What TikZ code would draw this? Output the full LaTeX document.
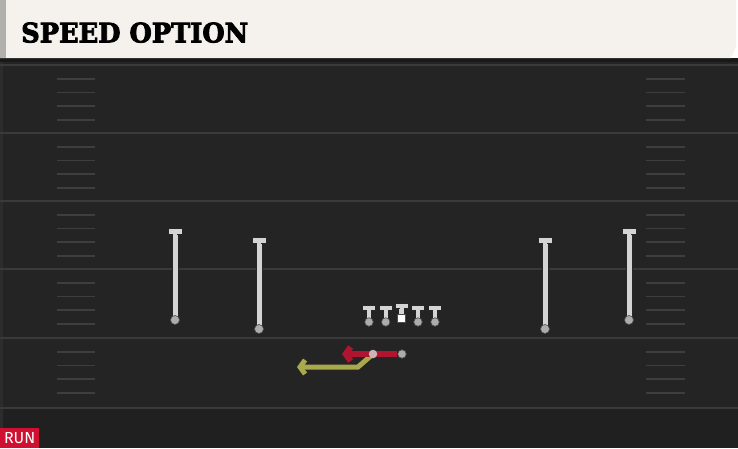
\documentclass[tikz,border=0pt]{standalone}
\usepackage{fontspec}
\newfontfamily\titlefont{DejaVu Serif}[BoldFeatures={FakeBold=3}]
\newfontfamily\runfont{Fira Sans}
\usetikzlibrary{arrows.meta}
\definecolor{fieldbg}{HTML}{242424}
\definecolor{fieldlow}{HTML}{202020}
\definecolor{yardln}{HTML}{3A3A3A}
\definecolor{hashln}{HTML}{3E3E3E}
\definecolor{headbg}{HTML}{F5F2EE}
\definecolor{headedge}{HTML}{B2B0AC}
\definecolor{playerc}{HTML}{D4D4D4}
\definecolor{dotc}{HTML}{ACACAC}
\definecolor{runred}{HTML}{B01530}
\definecolor{optyel}{HTML}{A8A84C}
\definecolor{runbox}{HTML}{D01030}
\definecolor{edgec}{HTML}{2C2C2C}
\tikzset{
  receiver/.style={draw=black!85, line width=0.8pt, fill=playerc},
  hdot/.style={circle, fill=dotc, draw=black!70, line width=0.6pt, inner sep=0pt, minimum size=9pt},
  hashmark/.style={hashln, line width=1.6pt},
  yardline/.style={yardln, line width=1.8pt},
}
\begin{document}
\begin{tikzpicture}[x=1pt,y=-1pt]
\useasboundingbox (0,0) rectangle (738,448);
% field
\fill[fieldbg] (0,58) rectangle (738,448);
\fill[fieldlow] (0,408) rectangle (738,448);
\fill[black!90] (0,58) rectangle (738,62);
\fill[edgec] (0,62) rectangle (3,448);
% yard lines
\foreach \y in {65,133,201,269,338,408} {
  \draw[yardline] (0,\y) -- (738,\y);
}
% hash marks
\foreach \b in {65,133,201,269,338} {
  \foreach \d in {14,27.5,41,55} {
    \draw[hashmark] (57,\b+\d) -- (95,\b+\d);
    \draw[hashmark] (646,\b+\d) -- (685,\b+\d);
  }
}
% header
\fill[headbg] (0,0) -- (736,0) -- (736,47) -- (731,58) -- (0,58) -- cycle;
\fill[headedge] (0,0) rectangle (6,58);
\node[anchor=south west, inner sep=0pt] (title) at (21,43)
  {\resizebox{227pt}{20pt}{\titlefont\bfseries SPEED OPTION}};
% receivers
\foreach \n/\x/\t/\b in {wa/175/231/320, wb/259/240/329, wc/545/240/329, wd/629/231/320} {
  \filldraw[receiver] (\x-3,\t) rectangle (\x+3,\b);
  \filldraw[receiver] (\x-7,\t-3) rectangle (\x+7,\t+3);
  \fill[playerc] (\x-2.2,\t+2) rectangle (\x+2.2,\t+4.5);
  \node[hdot] (\n) at (\x,\b) {};
}
% linemen
\foreach \n/\x in {la/369, lb/385.7, ld/418, le/435} {
  \filldraw[receiver] (\x-2.8,308) rectangle (\x+2.8,321);
  \filldraw[receiver] (\x-6.5,305.5) rectangle (\x+6.5,310.5);
  \fill[playerc] (\x-2,309) rectangle (\x+2,312);
  \node[hdot, minimum size=8.5pt] (\n) at (\x,322) {};
}
\filldraw[receiver] (401.5-2.8,306) rectangle (401.5+2.8,316);
\filldraw[receiver] (401.5-6.5,303.5) rectangle (401.5+6.5,308.5);
\fill[playerc] (401.5-2,307) rectangle (401.5+2,310);
\node[draw=black!70, line width=0.6pt, fill=white, minimum size=8.5pt, inner sep=0pt] (center) at (401.5,318.5) {};
% backfield
\node[hdot, minimum size=8.5pt] (qb) at (402,354) {};
\coordinate (rbc) at (373,354);
\coordinate (redend) at (342,354);
\coordinate (yelmid) at (358,367);
\coordinate (yelend) at (297,367);
\draw[optyel, line width=5pt, -{Straight Barb[length=5pt,width=14pt]}] (rbc) -- (yelmid) -- (yelend);
\draw[runred, line width=6pt, -{Straight Barb[length=5pt,width=14pt]}] (qb.west) -- (redend);
\node[hdot, minimum size=8.5pt, fill=dotc!60!pink, draw=none] (rb) at (rbc) {};
% RUN label
\node[fill=runbox, text=white, anchor=south west, inner sep=0pt, minimum width=39pt, minimum height=20pt, font=\runfont\fontsize{16}{16}\selectfont] (run) at (0,448) {RUN};
\end{tikzpicture}
\end{document}
